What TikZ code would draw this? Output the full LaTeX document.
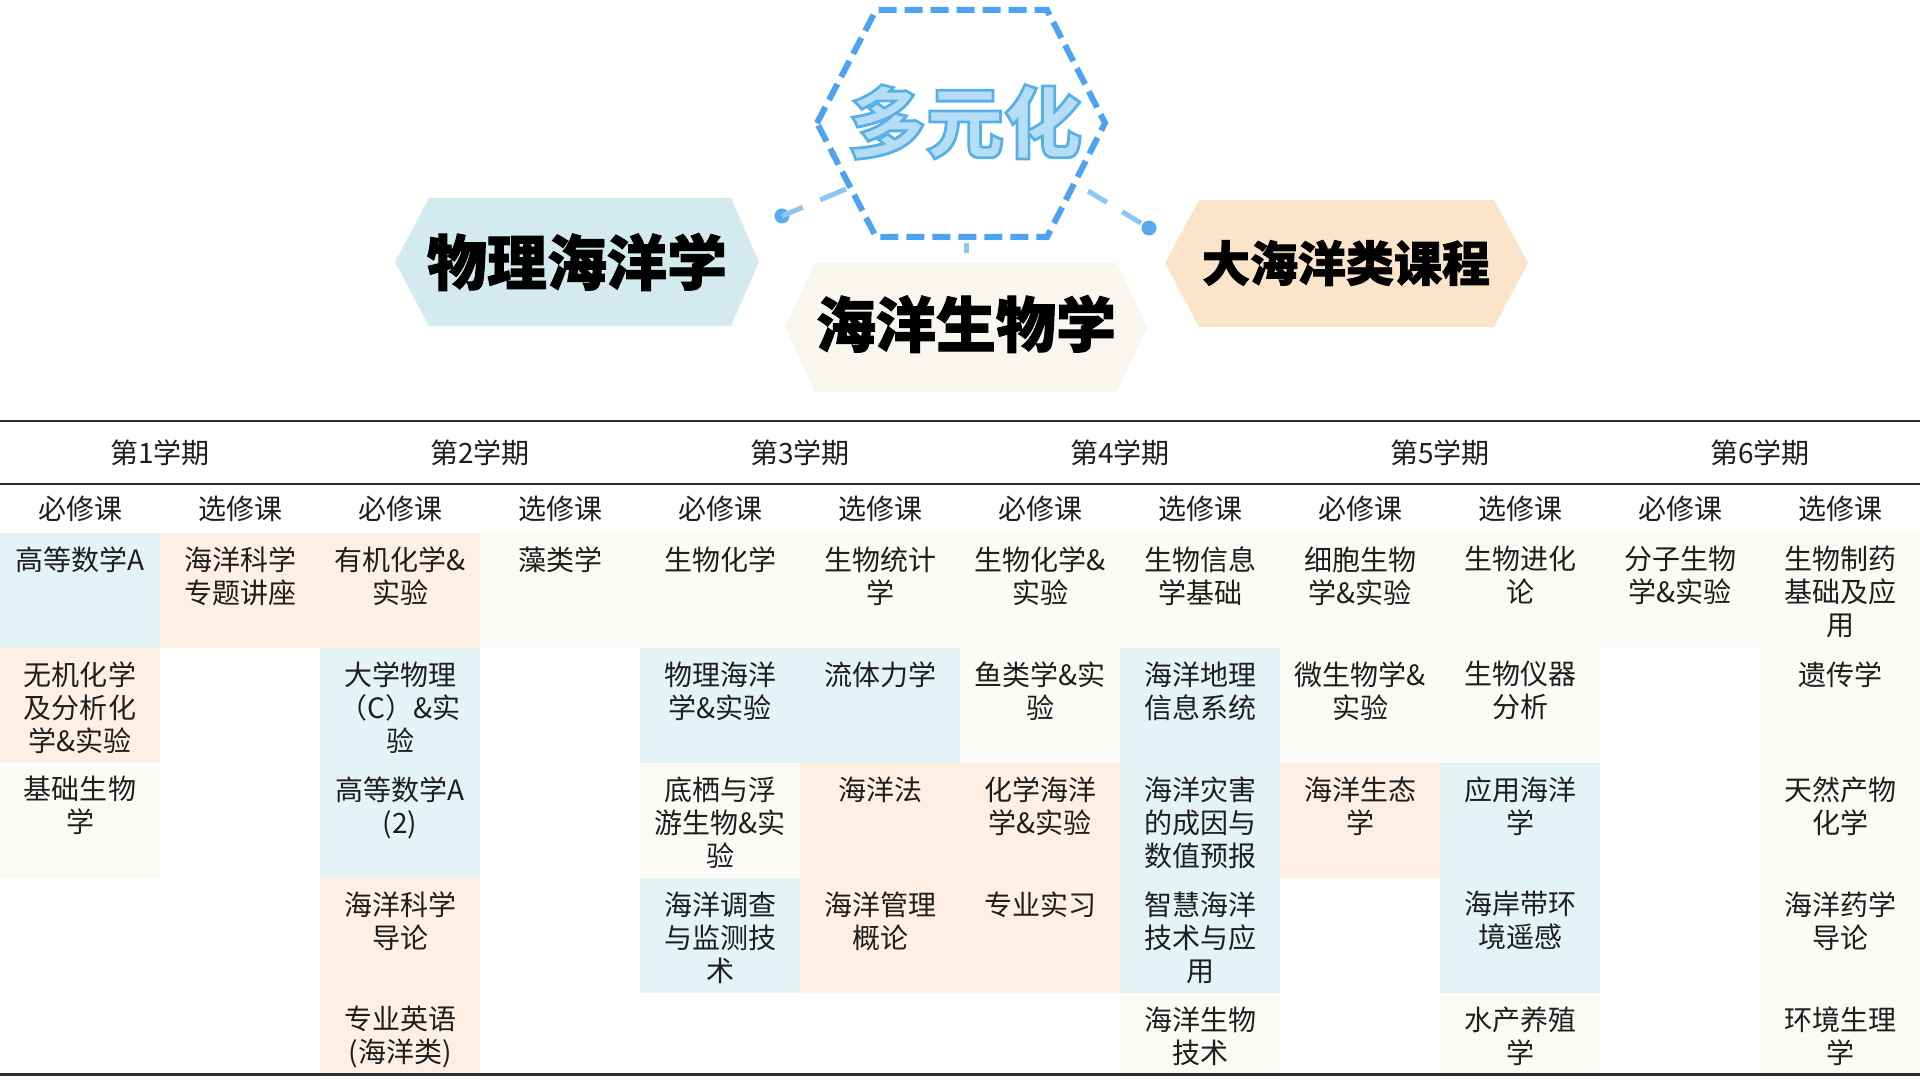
\documentclass[tikz,border=0pt]{standalone}
\usepackage{fontspec}
\setmainfont{Noto Sans CJK SC}
\newfontfamily\headfont{Noto Sans CJK SC}[FakeBold=1.6]
\definecolor{physfill}{RGB}{211,235,238}
\definecolor{biofill}{RGB}{248,246,239}
\definecolor{broadfill}{RGB}{251,228,201}
\definecolor{cellblue}{RGB}{228,243,246}
\definecolor{cellpeach}{RGB}{253,239,227}
\definecolor{cellbeige}{RGB}{251,250,246}
\definecolor{hexblue}{RGB}{77,163,240}
\definecolor{linkblue}{RGB}{142,198,243}
\definecolor{dotblue}{RGB}{90,170,240}
\definecolor{duofill}{RGB}{181,221,246}
\definecolor{coursetext}{RGB}{30,30,30}
\definecolor{rulegray}{RGB}{45,45,45}
\newcommand\outlined[1]{\special{pdf:literal 2 Tr 1.4 w 0.35 0.69 0.90 RG}#1\special{pdf:literal 0 Tr}}
\tikzset{
  cellbox/.style={anchor=north,align=center,inner sep=0pt,text=coursetext,font=\fontsize{14}{16.5}\selectfont},
  headlabel/.style={inner sep=0pt,text=coursetext,font=\fontsize{14}{16.5}\selectfont},
  hexlabel/.style={inner sep=0pt,font=\headfont\bfseries\fontsize{30}{30}\selectfont},
  bluecell/.style={fill=cellblue},
  peachcell/.style={fill=cellpeach},
  beigecell/.style={fill=cellbeige},
  rule/.style={draw=rulegray,line width=1.2pt},
  link/.style={draw=linkblue,line width=2.5pt},
  linkdot/.style={circle,fill=dotblue,inner sep=0pt,minimum size=7.5pt},
}
\begin{document}
\begin{tikzpicture}[x=0.5pt,y=-0.5pt]
\useasboundingbox (0,0) rectangle (1920,1080);
% three fields
\fill[physfill] (395,262) -- (429,198) -- (731,198) -- (759,262) -- (731,326) -- (429,326) -- cycle;
\fill[biofill] (785,327) -- (815,263) -- (1117,263) -- (1147,327) -- (1117,392) -- (815,392) -- cycle;
\fill[broadfill] (1165,263) -- (1199,200) -- (1494,200) -- (1528,263) -- (1494,327) -- (1199,327) -- cycle;
\node[hexlabel] (phys) at (577,262) {物理海洋学};
\node[hexlabel] (bio) at (966,324) {海洋生物学};
\node[hexlabel,font=\headfont\bfseries\fontsize{24}{24}\selectfont] (broad) at (1346,263) {大海洋类课程};
% dashed hexagon and links
\draw[hexblue,line width=3pt,dash pattern=on 9pt off 4pt] (817,123) -- (876,10) -- (1047,10) -- (1105,123) -- (1047,237) -- (876,237) -- cycle;
\coordinate (hexleft) at (846,189);
\coordinate (hexright) at (1088,191);
\coordinate (hexbottom) at (966,237);
\coordinate (biotop) at (966,263);
\node[linkdot] (dotleft) at (782,216) {};
\node[linkdot] (dotright) at (1149,228) {};
\draw[link,dash pattern=on 14pt off 9.5pt] (hexleft) -- (dotleft.center);
\draw[link,dash pattern=on 11pt off 9pt] (hexright) -- (dotright.center);
\draw[link,dash pattern=on 5pt off 8pt,dash phase=10pt] (hexbottom) -- (biotop);
% table rules
\draw[rule] (0,421) -- (1920,421);
\draw[rule] (0,484) -- (1920,484);
\draw[rule,line width=1.5pt] (0,1074) -- (1920,1074);
% cell colours
\fill[bluecell] (0,533) rectangle (160,648);
\fill[peachcell] (0,648) rectangle (160,763);
\fill[beigecell] (0,763) rectangle (160,878);
\fill[peachcell] (160,533) rectangle (320,648);
\fill[peachcell] (320,533) rectangle (480,648);
\fill[bluecell] (320,648) rectangle (480,878);
\fill[peachcell] (320,878) rectangle (480,1073);
\fill[beigecell] (480,533) rectangle (640,648);
\fill[beigecell] (640,533) rectangle (800,648);
\fill[bluecell] (640,648) rectangle (800,763);
\fill[beigecell] (640,763) rectangle (800,878);
\fill[bluecell] (640,878) rectangle (800,993);
\fill[beigecell] (800,533) rectangle (960,648);
\fill[bluecell] (800,648) rectangle (960,763);
\fill[peachcell] (800,763) rectangle (960,993);
\fill[beigecell] (960,533) rectangle (1120,763);
\fill[peachcell] (960,763) rectangle (1120,993);
\fill[beigecell] (1120,533) rectangle (1280,648);
\fill[bluecell] (1120,648) rectangle (1280,993);
\fill[beigecell] (1120,993) rectangle (1280,1073);
\fill[beigecell] (1280,533) rectangle (1440,763);
\fill[peachcell] (1280,763) rectangle (1440,878);
\fill[beigecell] (1440,533) rectangle (1600,763);
\fill[bluecell] (1440,763) rectangle (1600,993);
\fill[beigecell] (1440,993) rectangle (1600,1073);
\fill[beigecell] (1600,533) rectangle (1760,648);
\fill[beigecell] (1760,533) rectangle (1920,1073);
% semesters
\node[headlabel] (sem1) at (160,453) {第1学期};
\node[headlabel] (sem2) at (480,453) {第2学期};
\node[headlabel] (sem3) at (800,453) {第3学期};
\node[headlabel] (sem4) at (1120,453) {第4学期};
\node[headlabel] (sem5) at (1440,453) {第5学期};
\node[headlabel] (sem6) at (1760,453) {第6学期};
\node[headlabel] (req1) at (80,509) {必修课};
\node[headlabel] (opt1) at (240,509) {选修课};
\node[headlabel] (req2) at (400,509) {必修课};
\node[headlabel] (opt2) at (560,509) {选修课};
\node[headlabel] (req3) at (720,509) {必修课};
\node[headlabel] (opt3) at (880,509) {选修课};
\node[headlabel] (req4) at (1040,509) {必修课};
\node[headlabel] (opt4) at (1200,509) {选修课};
\node[headlabel] (req5) at (1360,509) {必修课};
\node[headlabel] (opt5) at (1520,509) {选修课};
\node[headlabel] (req6) at (1680,509) {必修课};
\node[headlabel] (opt6) at (1840,509) {选修课};
% courses
\node[cellbox] (c1r1) at (80,546) {高等数学A};
\node[cellbox] (c1r2) at (80,661) {无机化学\\及分析化\\学\&实验};
\node[cellbox] (c1r3) at (80,776) {基础生物\\学};
\node[cellbox] (c2r1) at (240,546) {海洋科学\\专题讲座};
\node[cellbox] (c3r1) at (400,546) {有机化学\&\\实验};
\node[cellbox] (c3r2) at (400,661) {大学物理\\（C）\&实\\验};
\node[cellbox] (c3r3) at (400,776) {高等数学A\\(2)};
\node[cellbox] (c3r4) at (400,891) {海洋科学\\导论};
\node[cellbox] (c3r5) at (400,1006) {专业英语\\(海洋类)};
\node[cellbox] (c4r1) at (560,546) {藻类学};
\node[cellbox] (c5r1) at (720,546) {生物化学};
\node[cellbox] (c5r2) at (720,661) {物理海洋\\学\&实验};
\node[cellbox] (c5r3) at (720,776) {底栖与浮\\游生物\&实\\验};
\node[cellbox] (c5r4) at (720,891) {海洋调查\\与监测技\\术};
\node[cellbox] (c6r1) at (880,546) {生物统计\\学};
\node[cellbox] (c6r2) at (880,661) {流体力学};
\node[cellbox] (c6r3) at (880,776) {海洋法};
\node[cellbox] (c6r4) at (880,891) {海洋管理\\概论};
\node[cellbox] (c7r1) at (1040,546) {生物化学\&\\实验};
\node[cellbox] (c7r2) at (1040,661) {鱼类学\&实\\验};
\node[cellbox] (c7r3) at (1040,776) {化学海洋\\学\&实验};
\node[cellbox] (c7r4) at (1040,891) {专业实习};
\node[cellbox] (c8r1) at (1200,546) {生物信息\\学基础};
\node[cellbox] (c8r2) at (1200,661) {海洋地理\\信息系统};
\node[cellbox] (c8r3) at (1200,776) {海洋灾害\\的成因与\\数值预报};
\node[cellbox] (c8r4) at (1200,891) {智慧海洋\\技术与应\\用};
\node[cellbox] (c8r5) at (1200,1006) {海洋生物\\技术};
\node[cellbox] (c9r1) at (1360,546) {细胞生物\\学\&实验};
\node[cellbox] (c9r2) at (1360,661) {微生物学\&\\实验};
\node[cellbox] (c9r3) at (1360,776) {海洋生态\\学};
\node[cellbox] (c10r1) at (1520,546) {生物进化\\论};
\node[cellbox] (c10r2) at (1520,661) {生物仪器\\分析};
\node[cellbox] (c10r3) at (1520,776) {应用海洋\\学};
\node[cellbox] (c10r4) at (1520,891) {海岸带环\\境遥感};
\node[cellbox] (c10r5) at (1520,1006) {水产养殖\\学};
\node[cellbox] (c11r1) at (1680,546) {分子生物\\学\&实验};
\node[cellbox] (c12r1) at (1840,546) {生物制药\\基础及应\\用};
\node[cellbox] (c12r2) at (1840,661) {遗传学};
\node[cellbox] (c12r3) at (1840,776) {天然产物\\化学};
\node[cellbox] (c12r4) at (1840,891) {海洋药学\\导论};
\node[cellbox] (c12r5) at (1840,1006) {环境生理\\学};
% title
\node[hexlabel,text=duofill,font=\bfseries\fontsize{39}{39}\selectfont] (duoyuan) at (965,122) {\outlined{多元化}};
\end{tikzpicture}
\end{document}
